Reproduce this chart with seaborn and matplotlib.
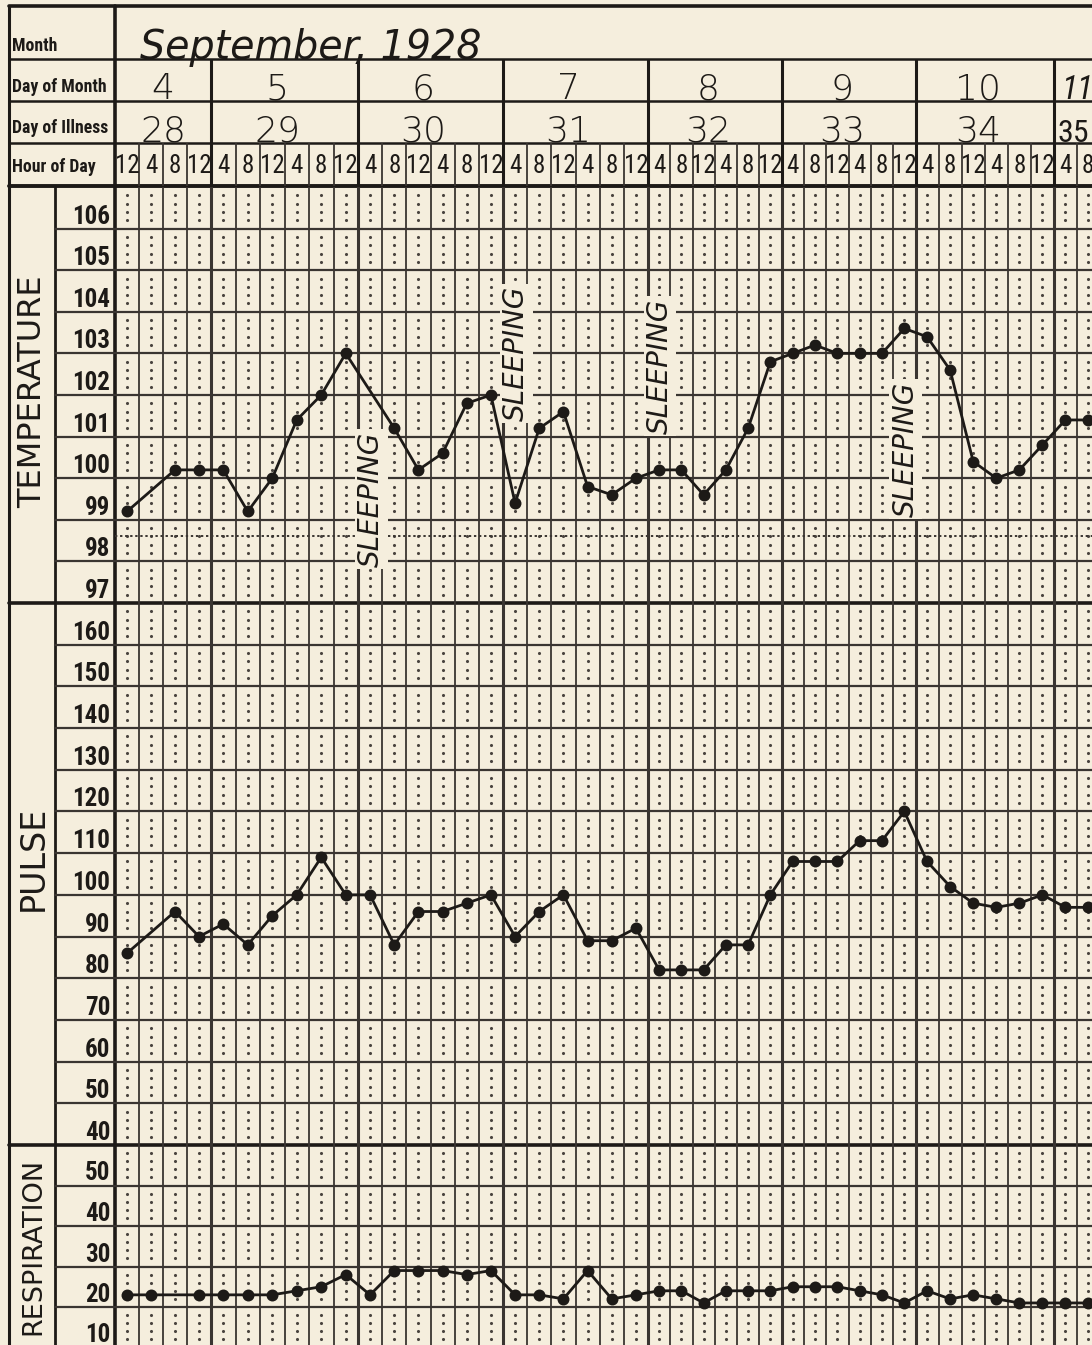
import numpy as np
import pandas as pd
import matplotlib
matplotlib.use("Agg")
import matplotlib.pyplot as plt
import seaborn as sns
from matplotlib import font_manager as fm
from matplotlib import transforms as mtrans

# ---------------- data ----------------
month_text = "September, 1928"
header_row_labels = ["Month", "Day of Month", "Day of Illness", "Hour of Day"]
day_of_month = ["4", "5", "6", "7", "8", "9", "10", "11"]
day_of_illness = ["28", "29", "30", "31", "32", "33", "34", "35"]
hour_labels = ["12", "4", "8"]
section_names = ["TEMPERATURE", "PULSE", "RESPIRATION"]
temp_ticks = [106, 105, 104, 103, 102, 101, 100, 99, 98, 97]
pulse_ticks = [160, 150, 140, 130, 120, 110, 100, 90, 80, 70, 60, 50, 40]
resp_ticks = [50, 40, 30, 20, 10]
nan = np.nan
temperature = [99.2, nan, 100.2, 100.2, 100.2, 99.2, 100.0, 101.4, 102.0, 103.0,
               nan, 101.2, 100.2, 100.6, 101.8, 102.0, 99.4, 101.2, 101.6, 99.8,
               99.6, 100.0, 100.2, 100.2, 99.6, 100.2, 101.2, 102.8, 103.0, 103.2,
               103.0, 103.0, 103.0, 103.6, 103.4, 102.6, 100.4, 100.0, 100.2, 100.8,
               101.4, 101.4]
pulse = [86, nan, 96, 90, 93, 88, 95, 100, 109, 100,
         100, 88, 96, 96, 98, 100, 90, 96, 100, 89,
         89, 92, 82, 82, 82, 88, 88, 100, 108, 108,
         108, 113, 113, 120, 108, 102, 98, 97, 98, 100,
         97, 97]
respiration = [23, 23, nan, 23, 23, 23, 23, 24, 25, 28,
               23, 29, 29, 29, 28, 29, 23, 23, 22, 29,
               22, 23, 24, 24, 21, 24, 24, 24, 25, 25,
               25, 24, 23, 21, 24, 22, 23, 22, 21, 21,
               21, 21]
sleeping_cols = [10, 16, 22, 33]
sleeping_temp = [99.5, 103.0, 102.7, 100.7]

# ---------------- style ----------------
sns.set_style("white")
PAPER = "#f5eedd"
INK = "#1d1a17"
GRID = "#3a3531"
plt.rcParams["font.family"] = ["DejaVu Sans"]
plt.rcParams["figure.facecolor"] = PAPER
plt.rcParams["savefig.facecolor"] = PAPER

_names = {f.name for f in fm.fontManager.ttflist}
NARROW = next((n for n in ["Liberation Sans Narrow", "DejaVu Sans Condensed",
                           "Roboto Condensed", "Open Sans Condensed"] if n in _names), None)
if NARROW:
    COND = [NARROW, "DejaVu Sans"]
    kf = 1.0
else:
    COND = ["DejaVu Sans"]
    kf = 0.74

W, H = 1092, 1345
fig = plt.figure(figsize=(W / 100, H / 100), dpi=100)

X_LEFT, X_NAME, X_GRID = 9, 55, 115
Y_TOP, Y_MONTH, Y_DOM, Y_DOI, Y_HOUR = 6, 59, 101, 143, 186
T_TOP, T_BOT = 187, 603
P_BOT = 1145


def px_axes(x0, y0, x1, y1):
    return fig.add_axes([x0 / W, 1 - y1 / H, (x1 - x0) / W, (y1 - y0) / H])


# non-uniform column spacing of the photographed chart sheet
edge_cols = [-4, 0, 4, 10, 16, 22, 28, 34, 40, 48]
edge_px = [18.6, 115, 211, 358, 503, 648, 781.5, 915.5, 1054, 1236.4]


def fwd(x):
    return np.interp(np.asarray(x, dtype=float), edge_cols, edge_px)


def inv(p):
    return np.interp(np.asarray(p, dtype=float), edge_px, edge_cols)


XMAX = float(inv(1092))
n_cols = len(temperature)
day_edges = [4, 10, 16, 22, 28, 34, 40]

ax_bg = fig.add_axes([0, 0, 1, 1])
ax_bg.set_xlim(0, W)
ax_bg.set_ylim(H, 0)
ax_bg.set_axis_off()

ax_h = px_axes(X_GRID, 0, W, T_TOP)
ax_t = px_axes(X_GRID, T_TOP, W, T_BOT)
ax_p = px_axes(X_GRID, T_BOT, W, P_BOT)
ax_r = px_axes(X_GRID, P_BOT, W, H)

resp_px_per_unit = 4.05
resp_low = 60 - (H - P_BOT) / resp_px_per_unit

df = pd.DataFrame({"reading": np.arange(n_cols) + 0.5,
                   "temperature": temperature,
                   "pulse": pulse,
                   "respiration": respiration})

for ax, key in [(ax_t, "temperature"), (ax_p, "pulse"), (ax_r, "respiration")]:
    d = df.dropna(subset=[key])
    sns.lineplot(data=d, x="reading", y=key, ax=ax, color=INK, linewidth=2.0,
                 marker="o", markersize=8.6, markeredgewidth=0,
                 estimator=None, sort=False, zorder=6)

for ax in (ax_h, ax_t, ax_p, ax_r):
    ax.set_xscale("function", functions=(fwd, inv))
    ax.set_xlim(0, XMAX)
    ax.set_axis_off()

ax_h.set_ylim(T_TOP, 0)
ax_t.set_ylim(97, 107)
ax_p.set_ylim(40, 170)
ax_r.set_ylim(resp_low, 60)

xmin_ext = -(X_GRID - X_NAME) / (W - X_GRID)
for ax, lo, hi, step, ticks in [(ax_t, 97, 107, 1, temp_ticks),
                                (ax_p, 40, 170, 10, pulse_ticks),
                                (ax_r, 10, 60, 10, resp_ticks)]:
    for k in range(1, n_cols + 1):
        ax.axvline(k, color=GRID, lw=2.2 if k in day_edges else 1.3, zorder=2)
    for v in np.arange(lo + step, hi, step):
        ax.axhline(v, xmin=xmin_ext, xmax=1, color=GRID, lw=1.6, clip_on=False, zorder=2)
    xs, ys = [], []
    for kc in range(n_cols):
        for r in np.arange(lo, hi, step):
            for j in range(1, 5):
                xs.append(kc + 0.5)
                ys.append(r + step * 0.2 * j)
    ax.scatter(xs, ys, s=5, color="#4a443f", linewidths=0, zorder=1)
    tr = mtrans.offset_copy(mtrans.blended_transform_factory(ax.transAxes, ax.transData),
                            fig=fig, y=5, units="dots")
    for v in ticks:
        ax.text(-5 / (W - X_GRID), v, str(v), transform=tr, ha="right", va="baseline",
                fontsize=18 * kf, family=COND, fontweight="bold", color=INK)

ax_t.axhline(98.6, color=GRID, lw=1.4, ls=(0, (1.2, 1.4)), zorder=2)

# SLEEPING notes
for c, v in zip(sleeping_cols, sleeping_temp):
    ax_t.text(c + 0.55, v, "SLEEPING", rotation=90, ha="center", va="center",
              fontsize=20, style="italic", color=INK, zorder=4,
              bbox=dict(boxstyle="square,pad=0.08", fc=PAPER, ec="none"))

# ---------------- frame / header ----------------
ax_bg.plot([X_LEFT, W], [Y_TOP, Y_TOP], color=INK, lw=2.6)
for y in (Y_MONTH, Y_DOM, Y_DOI):
    ax_bg.plot([X_LEFT, W], [y, y], color=INK, lw=1.8)
ax_bg.plot([X_LEFT, W], [Y_HOUR, Y_HOUR], color=INK, lw=2.8)
for y in (T_BOT, P_BOT):
    ax_bg.plot([X_LEFT, W], [y, y], color=INK, lw=2.6)
ax_bg.plot([X_LEFT, X_LEFT], [Y_TOP, H], color=INK, lw=2.2)
ax_bg.plot([X_GRID, X_GRID], [Y_TOP, H], color=INK, lw=2.6)
ax_bg.plot([X_NAME, X_NAME], [Y_HOUR, H], color=INK, lw=2.0)

for lab, y in zip(header_row_labels, [46, 87, 128, 167]):
    ax_bg.text(12, y, lab, ha="left", va="center", fontsize=12.8 * kf, family=COND,
               fontweight="bold", color=INK)

for name, y, fs in zip(section_names, [392, 858, 1246], [23, 24, 19.5]):
    ax_bg.text(33, y, name, rotation=90, ha="center", va="center", fontsize=fs, color=INK)

ax_h.vlines(day_edges, Y_MONTH, Y_HOUR, color=INK, lw=2.2)
ax_h.vlines([k for k in range(1, n_cols + 1) if k not in day_edges], Y_DOI, Y_HOUR,
            color=GRID, lw=1.3)

for k in range(n_cols):
    ax_h.text(k + 0.5, 166, hour_labels[k % 3], ha="center", va="center",
              fontsize=18 * kf, family=COND, color=INK)

starts = [0] + day_edges
ends = day_edges + [46]
pos = [(s + e) / 2 - (0 if i == 0 else 0.3) for i, (s, e) in enumerate(zip(starts, ends))]
for i, (p, dm, di) in enumerate(zip(pos, day_of_month, day_of_illness)):
    if i == len(pos) - 1:
        # last day is cut by the page edge: squeeze its numbers into the visible part
        ax_h.text(40.3, 99, dm, ha="left", va="baseline", fontsize=24 * kf,
                  family=COND, color=INK, style="italic")
        ax_h.text(40.15, 142, di, ha="left", va="baseline", fontsize=23 * kf,
                  family=COND, color=INK)
    else:
        ax_h.text(p, 99, dm, ha="center", va="baseline", fontsize=26, fontweight="light",
                  color=INK)
        ax_h.text(p, 142, di, ha="center", va="baseline", fontsize=26, fontweight="light",
                  color=INK)

ax_h.text(1.04, 59, month_text, ha="left", va="baseline", fontsize=28.5, style="italic",
          fontweight="light", color=INK)

fig.savefig("out.png", dpi=100, facecolor=PAPER)
